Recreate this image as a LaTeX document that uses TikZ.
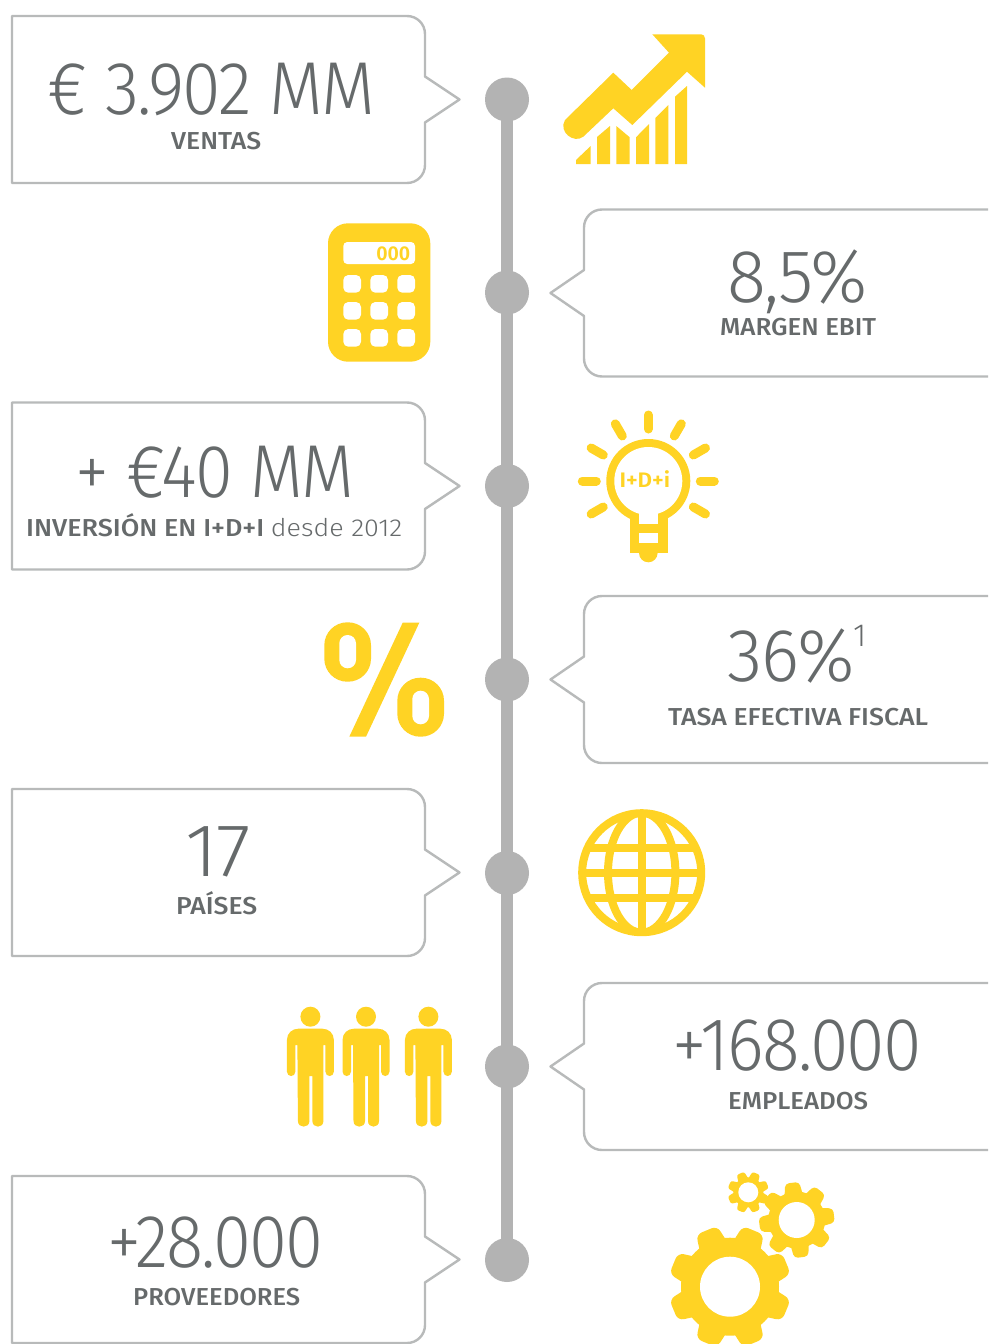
\documentclass[tikz,border=0pt]{standalone}
\usepackage{fontspec}
\usepackage{graphicx}
\usetikzlibrary{calc}
\setmainfont{Fira Sans}[UprightFont=* Medium,Numbers=Lining]
\newfontfamily\lightfont{Fira Sans}[UprightFont=* Light,Numbers=Lining,LetterSpace=-2.5]
\newfontfamily\thinlabel{Fira Sans}[UprightFont=* Light,Numbers=Lining]
\newfontfamily\boldfont{Fira Sans}[UprightFont=* SemiBold,Numbers=Lining]
\definecolor{yel}{HTML}{FFD324}
\definecolor{gry}{HTML}{B3B3B3}
\definecolor{ink}{HTML}{666A6B}
\definecolor{edge}{HTML}{B8BABA}
\tikzset{
  dot/.style={circle,fill=gry,inner sep=0pt,minimum size=44pt},
  spine/.style={draw=gry,line width=12pt},
  callout/.style={draw=edge,line width=2.4pt,line join=round},
  txt/.style={anchor=base west,inner sep=0pt,text=ink},
  ico/.style={fill=yel,draw=none},
  hole/.style={fill=white,draw=none},
  ray/.style={draw=yel,line width=9pt,line cap=round},
  ring/.style={draw=yel,line width=8pt}
}
% left callout: top y
\newcommand\leftcall[1]{%
  \draw[callout] (12,#1) -- (12,#1+167) -- (407,#1+167)
    .. controls (417,#1+167) and (425,#1+159) .. (425,#1+149)
    -- (425,#1+106.5) -- (459.5,#1+83.5) -- (425,#1+60.5) -- (425,#1+18)
    .. controls (425,#1+8) and (417,#1) .. (407,#1) -- cycle;}
% right callout: top y
\newcommand\rightcall[1]{%
  \draw[callout] (1000,#1) -- (602,#1)
    .. controls (592,#1) and (584,#1+8) .. (584,#1+18)
    -- (584,#1+60.5) -- (550.5,#1+83.5) -- (584,#1+106.5) -- (584,#1+149)
    .. controls (584,#1+159) and (592,#1+167) .. (602,#1+167) -- (1000,#1+167);}
% name, x1, x2, baseline, text
\newcommand\bigtext[5]{\node[txt] (#1) at (#2-2.5,#4) {\resizebox{\dimexpr #3pt-#2pt+5pt\relax}{\height}{\fontsize{75}{75}\lightfont #5}};}
\newcommand\labeltext[5]{\node[txt] (#1) at (#2,#4) {\resizebox{\dimexpr #3pt-#2pt\relax}{\height}{\fontsize{24.5}{25}\selectfont #5}};}
\newcommand\person[1]{%
  \begin{scope}[shift={(#1,0)}]
    \fill[ico] (0,1016.7) circle[radius=10];
    \fill[ico] (-23.5,1040) .. controls (-23.5,1033) and (-18,1028.7) .. (-12,1028.7)
      -- (12,1028.7) .. controls (18,1028.7) and (23.5,1033) .. (23.5,1040)
      -- (23.5,1071.5) .. controls (23.5,1077.5) and (15,1077.5) .. (15,1071.5)
      -- (15,1045) -- (13,1045) -- (13,1121) .. controls (13,1128.5) and (2,1128.5) .. (2,1121)
      -- (2,1076) -- (-1,1076) -- (-1,1121) .. controls (-1,1128.5) and (-12.5,1128.5) .. (-12.5,1121)
      -- (-13,1045) -- (-15,1045) -- (-15,1071.5) .. controls (-15,1077.5) and (-23.5,1077.5) .. (-23.5,1071.5) -- cycle;
  \end{scope}}
% cx, cy, body r, tooth r, hole r, tooth width, start angle
\newcommand\cogwheel[7]{%
  \begin{scope}[shift={(#1,#2)}]
    \fill[ico] (0,0) circle[radius=#3];
    \foreach \a in {0,45,...,315}{
      \begin{scope}[rotate=#7+\a]
        \fill[ico,rounded corners=#6pt/4] (-.65*#6,.75*#3) -- (-.47*#6,#4) -- (.47*#6,#4) -- (.65*#6,.75*#3) -- cycle;
      \end{scope}}
    \fill[hole] (0,0) circle[radius=#5];
  \end{scope}}
\begin{document}
\begin{tikzpicture}[x=1pt,y=-1pt]
\useasboundingbox (0,0) rectangle (988,1344);
\clip (0,0) rectangle (988,1344);
\fill[white] (0,0) rectangle (988,1344);

% timeline
\node[dot] (c1) at (507,99.5) {};
\node[dot] (c2) at (507,292.5) {};
\node[dot] (c3) at (507,486) {};
\node[dot] (c4) at (507,679.5) {};
\node[dot] (c5) at (507,873) {};
\node[dot] (c6) at (507,1066.5) {};
\node[dot] (c7) at (507,1260) {};
\draw[spine] (c1.center) -- (c2.center) -- (c3.center) -- (c4.center) -- (c5.center) -- (c6.center) -- (c7.center);

% callouts
\leftcall{16}
\leftcall{402.5}
\leftcall{789}
\leftcall{1176}
\rightcall{209.5}
\rightcall{596}
\rightcall{983}

% texts
\bigtext{t1}{50}{373}{114}{€ 3.902 MM}
\labeltext{l1}{171}{261}{149}{VENTAS}
\bigtext{t2}{730}{865}{302}{8,5\%}
\labeltext{l2}{720}{876}{335}{MARGEN EBIT}
\bigtext{t3}{78}{352}{497}{+ €40 MM}
\labeltext{l3}{26}{402}{536}{INVERSIÓN EN I+D+I {\thinlabel desde 2012}}
\bigtext{t4}{730}{852}{681}{36\%}
\node[txt,font=\fontsize{32}{32}\thinlabel] (t4s) at (853,646.7) {1};
\labeltext{l4}{668}{928}{725}{TASA EFECTIVA FISCAL}
\bigtext{t5}{188}{248}{876}{17}
\labeltext{l5}{176}{257}{914}{PAÍSES}
\bigtext{t6}{675}{919}{1070}{+168.000}
\labeltext{l6}{728}{868}{1109}{EMPLEADOS}
\bigtext{t7}{110}{321}{1267}{+28.000}
\labeltext{l7}{133}{300}{1305}{PROVEEDORES}

% chart icon
\fill[ico] (652.3,34.3) -- (701,34.3) .. controls (703.5,34.3) and (705,36) .. (705,38.5) -- (705,87.7)
  -- (687,71.7) -- (632.3,125) -- (613.3,108.3) -- (583.3,136.7)
  .. controls (574,144) and (558,132) .. (565,120)
  -- (613.3,72.7) -- (631.7,90) -- (669,52.7) -- cycle;
\fill[ico] (576,164) -- (576,160) -- (590.7,146) -- (590.7,164) -- cycle;
\fill[ico] (597,164) -- (597,137) -- (610,126) -- (610,164) -- cycle;
\fill[ico] (616.3,164) -- (616.3,126) -- (629.7,137.3) -- (629.7,164) -- cycle;
\fill[ico] (636,164) -- (636,137.3) -- (649,124) -- (649,164) -- cycle;
\fill[ico] (655.3,164) -- (655.3,118) -- (668.3,105) -- (668.3,164) -- cycle;
\fill[ico] (675,164) -- (675,96.7) -- (687,86) -- (687,164) -- cycle;

% calculator icon
\fill[ico,rounded corners=20pt] (328,223.3) rectangle (430.3,361.7);
\fill[hole,rounded corners=4pt] (343.3,242) rectangle (415,264);
\foreach \ky in {275,302,329}{
  \foreach \kx in {343.3,370.3,397.3}{
    \fill[hole,rounded corners=5pt] (\kx,\ky) rectangle (\kx+17.7,\ky+17.7);
  }}
\node[anchor=base east,inner sep=0pt,text=yel] (calc) at (410.5,260) {\resizebox{34pt}{\height}{\fontsize{20}{20}\boldfont 000}};

% bulb icon
\foreach \a in {0,-30,-60,-90,-120,-150,180,30,150}{
  \draw[ray] ($(648.3,481)+(\a:52)$) -- ($(648.3,481)+(\a:66)$);
}
\fill[ico] (648.3,481) circle[radius=42];
\fill[ico] (630,510) rectangle (668.3,553);
\fill[ico] (648.3,553) circle[radius=9.3];
\fill[hole] (648.3,481) circle[radius=34];
\fill[hole] (639.3,505) rectangle (658.3,524);
\fill[hole] (639.3,533.3) rectangle (658.3,543.3);
\node[anchor=base west,inner sep=0pt,text=yel] (bulb) at (619.3,487.5) {\resizebox{50.7pt}{\height}{\fontsize{21}{21}\boldfont I+D+i}};

% percent icon
\fill[ico,rounded corners=23pt] (324.3,622.3) rectangle (371,681.7);
\fill[hole,rounded corners=8.3pt] (339.3,635) rectangle (356,668.3);
\fill[ico,rounded corners=23pt] (397.3,677.7) rectangle (444,736.7);
\fill[hole,rounded corners=8.3pt] (412.3,690.7) rectangle (429,724.3);
\fill[ico] (402.7,622.7) -- (419.3,622.7) -- (366,736.7) -- (349.3,736.7) -- cycle;

% globe icon
\begin{scope}
\clip (641.7,872.7) circle[radius=62];
\draw[ring] (641.7,872.7) circle[x radius=33.7,y radius=60];
\draw[ring] (641.7,810) -- (641.7,936);
\draw[ring] (575,872.7) -- (708,872.7);
\draw[ring] (575,847.7) -- (708,847.7);
\draw[ring] (575,898) -- (708,898);
\end{scope}
\draw[ring] (641.7,872.7) circle[radius=59.5];

% people icon
\person{310.4}
\person{366}
\person{428.4}

% gears
\cogwheel{730}{1286.7}{49}{61}{30}{24}{22.5}
\cogwheel{796.7}{1220}{28.5}{37.5}{18}{15}{7}
\cogwheel{748.3}{1192.3}{15}{20.5}{10}{8.5}{22.5}
\end{tikzpicture}
\end{document}
